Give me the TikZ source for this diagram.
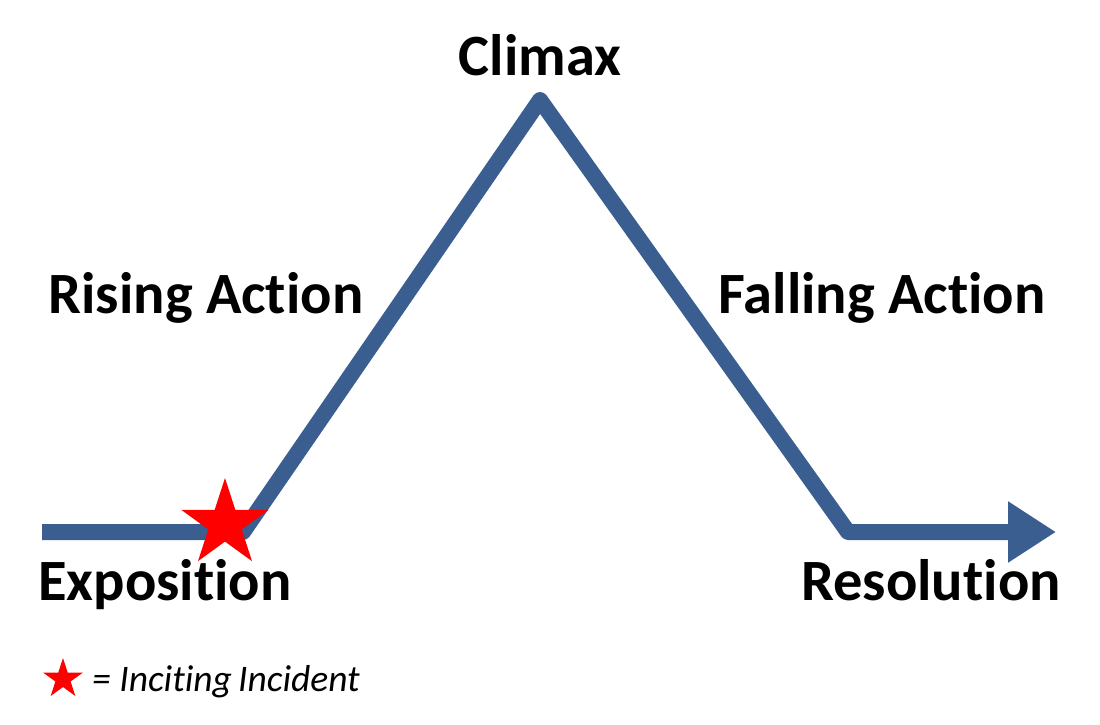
\documentclass[tikz,border=0pt]{standalone}
\usepackage{fontspec}
\setmainfont{Carlito}[RawFeature={-liga;-clig;-dlig;-calt}]
\usetikzlibrary{shapes.geometric,arrows.meta}
\definecolor{plotblue}{RGB}{59,94,145}
\begin{document}
\begin{tikzpicture}[x=1pt,y=-1pt,
  lbl/.style={font=\fontsize{58.5}{62}\selectfont\bfseries, inner sep=0pt, anchor=base},
  plotline/.style={draw=plotblue, line width=16pt, line join=round,
     -{Triangle[length=48pt,width=58pt]}},
  redstar/.style={star, star points=5, star point ratio=2.618, fill=red, draw=none, inner sep=0pt}]
\useasboundingbox (0,0) rectangle (1100,724);
\coordinate (start) at (42,532);
\coordinate (inc) at (243,532);
\coordinate (peak) at (540,100);
\coordinate (low) at (848,532);
\coordinate (end) at (1056,532);
\draw[plotline] (start) -- (inc) -- (peak) -- (low) -- (end);
\node[redstar, minimum size=92pt] (star) at (225,524) {};
\node[lbl] (climax) at (540,75) {Climax};
\node[lbl] (rising) at (206,313) {Rising Action};
\node[lbl] (falling) at (882,313) {Falling Action};
\node[lbl] (expo) at (165,600) {Exposition};
\node[lbl] (reso) at (931,600) {Resolution};
\node[redstar, minimum size=42pt] (lstar) at (63,679) {};
\node[font=\fontsize{37.5}{40}\selectfont\itshape, inner sep=0pt, anchor=base west] (legend) at (92,691) {= Inciting\,Incident};
\end{tikzpicture}
\end{document}
